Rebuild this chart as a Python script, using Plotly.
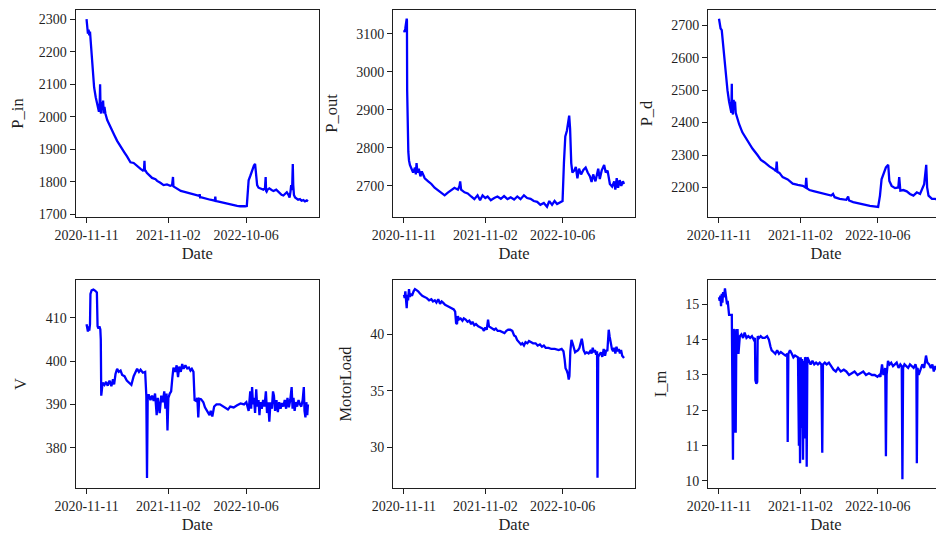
import plotly.graph_objects as go
import pandas as pd

BASE_DATE = "2020-11-11"
tick_labels = ["2020-11-11", "2021-11-02", "2022-10-06"]

# ---- P_in ----
pin_days = [0, 3, 6, 9, 12, 15, 18, 22, 27, 33,
            40, 48, 54, 57, 59, 61, 63, 66, 69, 72,
            75, 78, 82, 90, 104, 120, 133, 150, 165, 176,
            185, 191, 205, 220, 235, 245, 250, 252, 254, 256,
            262, 275, 285, 300, 307, 321, 335, 350, 364, 372,
            376, 378, 380, 384, 393, 410, 422, 440, 451, 465,
            480, 490, 492, 494, 500, 509, 525, 538, 552, 558,
            560, 562, 570, 581, 595, 610, 625, 639, 655, 668,
            680, 690, 697, 700, 705, 712, 720, 728, 733, 737,
            742, 748, 758, 769, 776, 779, 781, 783, 787, 795,
            805, 813, 825, 835, 842, 848, 856, 862, 871, 878,
            883, 887, 890, 894, 897, 899, 902, 907, 914, 920,
            928, 935, 943, 950, 958, 963]
pin_vals = [2300, 2270, 2255, 2268, 2250, 2262, 2230, 2180, 2130, 2090,
            2060, 2030, 2015, 2030, 2100, 2020, 2010, 2045, 2025, 2050,
            2010, 2030, 2010, 1990, 1967, 1945, 1926, 1905, 1890, 1878,
            1865, 1860, 1858, 1848, 1840, 1835, 1838, 1865, 1832, 1835,
            1828, 1818, 1812, 1808, 1803, 1797, 1790, 1792, 1788, 1790,
            1815, 1786, 1785, 1782, 1778, 1772, 1770, 1767, 1765, 1762,
            1760, 1757, 1762, 1752, 1752, 1750, 1748, 1745, 1743, 1742,
            1755, 1741, 1740, 1738, 1735, 1733, 1730, 1728, 1726, 1725,
            1724, 1725, 1726, 1770, 1805, 1818, 1835, 1850, 1855, 1825,
            1790, 1782, 1778, 1776, 1780, 1815, 1772, 1770, 1776, 1780,
            1775, 1772, 1776, 1768, 1765, 1760, 1758, 1762, 1768, 1760,
            1752, 1770, 1790, 1775, 1855, 1790, 1760, 1752, 1748, 1745,
            1747, 1742, 1744, 1740, 1743, 1740]

# ---- P_out ----
pout_days = [0, 3, 6, 9, 12, 13, 14, 16, 19, 22,
             26, 33, 40, 48, 52, 55, 59, 65, 72, 78,
             84, 91, 106, 120, 134, 149, 163, 178, 192, 207,
             221, 236, 243, 246, 250, 265, 279, 294, 308, 322,
             333, 344, 356, 366, 380, 395, 409, 424, 438, 453,
             467, 482, 496, 510, 525, 539, 554, 568, 583, 597,
             612, 626, 636, 648, 659, 670, 684, 694, 700, 706,
             713, 718, 723, 727, 732, 737, 745, 752, 759, 766,
             775, 785, 795, 804, 814, 821, 828, 838, 850, 857,
             865, 876, 883, 891, 901, 911, 920, 925, 931, 937,
             944, 951, 958, 963]
pout_vals = [3110, 3105, 3115, 3130, 3140, 3135, 2950, 2840, 2790, 2767,
             2755, 2745, 2735, 2748, 2730, 2760, 2735, 2745, 2725, 2738,
             2728, 2720, 2712, 2705, 2695, 2688, 2683, 2675, 2682, 2688,
             2695, 2690, 2700, 2712, 2690, 2683, 2680, 2672, 2665, 2675,
             2662, 2675, 2668, 2672, 2662, 2668, 2672, 2666, 2673, 2665,
             2670, 2664, 2672, 2665, 2675, 2668, 2666, 2660, 2658, 2650,
             2655, 2645, 2660, 2650, 2660, 2652, 2658, 2660, 2760, 2830,
             2845, 2870, 2885, 2850, 2760, 2735, 2740, 2750, 2720, 2745,
             2730, 2742, 2748, 2735, 2725, 2710, 2730, 2712, 2745, 2718,
             2740, 2755, 2735, 2740, 2705, 2698, 2712, 2690, 2720, 2695,
             2715, 2700, 2712, 2705]

# ---- P_d ----
pd_days = [0, 7, 12, 18, 22, 29, 37, 44, 51, 54,
           56, 57, 61, 64, 67, 70, 73, 81, 88, 102,
           124, 146, 168, 183, 198, 220, 242, 249, 252, 255,
           264, 278, 300, 322, 344, 366, 378, 381, 384, 395,
           417, 439, 468, 490, 498, 505, 527, 556, 564, 568,
           586, 615, 644, 659, 695, 703, 710, 717, 729, 739,
           744, 754, 769, 783, 787, 792, 805, 820, 834, 849,
           864, 878, 890, 896, 905, 909, 915, 930, 944, 959,
           963]
pd_vals = [2720, 2690, 2685, 2640, 2600, 2540, 2500, 2465, 2440, 2430,
           2520, 2440, 2425, 2470, 2440, 2465, 2430, 2410, 2395, 2370,
           2345, 2320, 2300, 2285, 2278, 2265, 2255, 2250, 2280, 2248,
           2245, 2232, 2225, 2212, 2208, 2205, 2200, 2230, 2198, 2192,
           2188, 2184, 2180, 2175, 2180, 2170, 2165, 2162, 2172, 2160,
           2155, 2150, 2145, 2143, 2140, 2175, 2225, 2240, 2262, 2270,
           2220, 2205, 2198, 2200, 2232, 2190, 2192, 2188, 2180, 2175,
           2185, 2180, 2200, 2210, 2270, 2200, 2175, 2165, 2165, 2160,
           2158]

# ---- V ----
v_days = [0, 3, 6, 9, 12, 15, 17, 22, 30, 38,
          45, 48, 52, 56, 60, 62, 64, 66, 70, 78,
          85, 92, 100, 108, 115, 120, 126, 133, 140, 148,
          155, 165, 175, 185, 195, 205, 212, 220, 228, 235,
          245, 255, 260, 263, 266, 270, 278, 285, 292, 298,
          305, 310, 318, 325, 332, 338, 343, 348, 352, 356,
          362, 368, 373, 378, 385, 392, 398, 403, 410, 416,
          422, 430, 438, 445, 452, 458, 465, 470, 476, 482,
          486, 490, 498, 508, 515, 525, 535, 540, 547, 555,
          565, 580, 595, 605, 615, 625, 640, 655, 670, 685,
          695, 705, 712, 716, 720, 724, 728, 733, 738, 742,
          748, 752, 756, 762, 768, 774, 780, 785, 790, 795,
          800, 806, 811, 815, 820, 826, 832, 838, 844, 850,
          856, 862, 868, 874, 880, 886, 892, 896, 900, 905,
          910, 916, 922, 928, 934, 940, 945, 948, 952, 956,
          960, 963]
v_vals = [408.5, 407.5, 406.8, 408.0, 407.0, 408.5, 415.5, 416.3, 416.5, 416.2,
          415.8, 408.0, 407.5, 408.0, 407.3, 405.0, 392.0, 393.0, 395.0, 394.5,
          395.2, 394.3, 395.5, 394.2, 395.8, 394.6, 397.0, 398.2, 397.5, 397.8,
          396.8, 396.5, 395.5, 395.0, 394.5, 396.5, 397.5, 398.2, 397.5, 398.0,
          397.3, 397.5, 392.0, 373.0, 391.5, 392.3, 391.0, 392.0, 390.8, 392.5,
          387.5, 391.5, 388.0, 392.0, 390.5, 393.0, 389.0, 392.5, 384.0, 391.5,
          392.5, 393.0, 396.0, 398.5, 397.5, 399.0, 396.3, 398.7, 397.5, 399.3,
          398.2, 399.0, 398.3, 398.5, 397.8, 398.2, 397.5, 391.0, 390.8, 391.5,
          387.0, 391.3, 391.2, 390.5, 389.3, 388.5, 387.5, 388.5, 387.2, 389.5,
          390.0, 390.0, 389.5, 389.0, 388.8, 389.5, 389.3, 389.8, 390.2, 390.0,
          390.5, 388.5, 393.0, 389.0, 394.0, 390.0, 391.5, 388.0, 393.5, 389.5,
          391.0, 387.5, 390.5, 389.0, 391.0, 389.5, 393.0, 388.0, 390.5, 386.0,
          390.5, 389.0, 393.0, 392.0, 388.5, 391.0, 388.2, 390.5, 389.0, 390.3,
          389.5, 391.0, 389.0, 391.5, 389.3, 391.0, 394.0, 389.0, 391.5, 388.5,
          390.5, 389.5, 391.0, 390.0, 389.5, 391.0, 394.0, 388.5, 387.0, 390.5,
          387.5, 390.0]

# ---- MotorLoad ----
ml_days = [0, 3, 6, 9, 12, 15, 18, 22, 26, 30,
           35, 42, 48, 55, 62, 70, 80, 90, 100, 110,
           120, 127, 135, 142, 150, 158, 165, 171, 180, 190,
           200, 210, 218, 224, 228, 232, 236, 240, 248, 256,
           262, 270, 278, 286, 294, 300, 308, 315, 325, 335,
           344, 350, 356, 362, 368, 372, 378, 385, 395, 402,
           410, 420, 430, 440, 448, 456, 465, 474, 482, 489,
           495, 505, 512, 518, 525, 532, 540, 547, 555, 565,
           576, 585, 595, 604, 612, 620, 633, 645, 660, 677,
           690, 698, 703, 707, 712, 717, 721, 724, 728, 733,
           738, 743, 749, 755, 762, 768, 774, 778, 781, 786,
           793, 800, 808, 815, 821, 826, 831, 836, 841, 845,
           847, 850, 855, 862, 868, 874, 880, 885, 890, 896,
           900, 905, 910, 915, 920, 925, 930, 935, 940, 945,
           950, 955, 960, 963]
ml_vals = [43.5, 43.2, 43.8, 42.5, 42.3, 43.5, 43.0, 44.0, 43.3, 43.6,
           43.4, 43.8, 44.0, 43.9, 43.8, 43.6, 43.4, 43.3, 43.2, 43.0,
           43.1, 42.9, 43.0, 42.8, 43.1, 42.7, 42.9, 42.8, 42.6, 42.5,
           42.4, 42.3, 42.2, 42.0, 41.0, 40.9, 41.6, 41.3, 41.4, 41.2,
           41.4, 41.3, 41.1, 41.2, 40.9, 41.1, 40.8, 40.9, 40.7, 40.6,
           40.5, 40.3, 40.6, 40.4, 41.3, 40.7, 40.6, 40.5, 40.4, 40.5,
           40.3, 40.3, 40.2, 40.1, 40.3, 40.4, 40.4, 40.3, 39.9, 39.8,
           39.5, 39.3, 39.1, 39.2, 39.0, 39.3, 39.2, 39.4, 39.3, 39.2,
           39.2, 39.0, 39.1, 38.9, 39.0, 38.8, 38.8, 38.7, 38.7, 38.6,
           38.7, 38.5, 37.8, 37.0, 36.8, 36.5, 36.0, 36.3, 38.5, 39.5,
           39.2, 38.8, 38.4, 38.5, 38.6, 38.8, 39.4, 39.6, 39.3, 38.6,
           38.3, 38.4, 38.3, 38.5, 38.3, 38.8, 38.4, 38.6, 38.2, 38.5,
           27.3, 38.0, 38.2, 38.4, 38.0, 38.7, 38.1, 38.6, 38.5, 40.4,
           39.8, 39.0, 38.7, 38.5, 38.8, 38.3, 38.9, 38.5, 38.7, 38.3,
           38.6, 38.1, 38.0, 37.9]

# ---- I_m ----
im_days = [0, 3, 6, 9, 12, 15, 18, 22, 26, 29,
           32, 35, 38, 41, 44, 50, 56, 61, 64, 66,
           70, 73, 76, 79, 81, 85, 91, 98, 105, 112,
           120, 128, 136, 144, 152, 157, 159, 163, 167, 169,
           175, 182, 190, 200, 210, 218, 225, 230, 238, 246,
           254, 262, 270, 278, 290, 298, 300, 303, 310, 318,
           325, 332, 345, 349, 351, 354, 357, 360, 363, 367,
           370, 373, 376, 380, 383, 386, 392, 400, 408, 416,
           424, 432, 440, 447, 451, 454, 462, 470, 480, 490,
           500, 510, 520, 532, 545, 556, 568, 580, 592, 605,
           618, 630, 642, 655, 668, 680, 692, 700, 705, 712,
           718, 722, 726, 729, 732, 738, 745, 752, 760, 768,
           776, 784, 792, 798, 801, 804, 810, 818, 826, 834,
           842, 850, 858, 862, 864, 867, 872, 880, 888, 896,
           904, 910, 918, 925, 932, 938, 945, 952, 958, 963]
im_vals = [15.2, 15.1, 15.25, 14.95, 15.3, 15.05, 15.35, 15.2, 15.45, 15.3,
           15.15, 15.0, 15.1, 14.85, 14.7, 14.7, 14.7, 10.6, 14.3, 14.25,
           11.4, 11.4, 14.3, 13.6, 14.3, 13.6, 14.1, 14.15, 14.05, 14.2,
           14.05, 14.1, 14.05, 14.1, 14.0, 14.05, 12.85, 12.75, 12.8, 14.1,
           14.05, 14.1, 14.05, 14.05, 14.1, 14.0, 13.8, 13.7, 13.65, 13.6,
           13.7, 13.6, 13.65, 13.6, 13.55, 13.6, 11.1, 13.6, 13.7, 13.6,
           13.5, 13.55, 13.5, 11.0, 13.5, 10.5, 13.5, 11.5, 13.45, 10.6,
           13.4, 11.2, 13.5, 13.45, 10.4, 13.5, 13.4, 13.3, 13.4, 13.3,
           13.35, 13.3, 13.35, 13.3, 10.8, 13.3, 13.35, 13.3, 13.35, 13.25,
           13.15, 13.1, 13.2, 13.1, 13.15, 13.1, 13.0, 13.05, 13.1, 13.0,
           13.05, 13.1, 13.0, 13.05, 13.0, 13.0, 12.95, 13.0, 12.95, 13.3,
           13.0, 13.1, 13.2, 10.7, 13.0, 13.4, 13.3, 13.35, 13.25, 13.3,
           13.35, 13.2, 13.3, 13.25, 10.05, 13.2, 13.3, 13.25, 13.2, 13.3,
           13.25, 13.2, 13.3, 13.2, 10.5, 13.2, 13.0, 13.15, 13.3, 13.2,
           13.55, 13.35, 13.3, 13.2, 13.3, 13.1, 13.25, 13.15, 13.3, 13.25]

y_titles = ["P_in", "P_out", "P_d", "V", "MotorLoad", "I_m"]
y_ranges = [[1692, 2328], [2618, 3163], [2109, 2747],
            [370.7, 418.7], [26.4, 44.8], [9.8, 15.69]]
y_ticks = [[1700, 1800, 1900, 2000, 2100, 2200, 2300],
           [2700, 2800, 2900, 3000, 3100],
           [2200, 2300, 2400, 2500, 2600, 2700],
           [380, 390, 400, 410],
           [30, 35, 40],
           [10, 11, 12, 13, 14, 15]]
series = [(pin_days, pin_vals), (pout_days, pout_vals), (pd_days, pd_vals),
          (v_days, v_vals), (ml_days, ml_vals), (im_days, im_vals)]

base = pd.Timestamp(BASE_DATE)


def to_dates(days):
    return [base + pd.Timedelta(days=d) for d in days]


# The page body has an 8px margin, so the figure is drawn 8px in from the
# top-left corner; lay it out in page pixels and shift by that offset.
PAGE_W, PAGE_H, OFF = 944, 536, 8
W, H = PAGE_W - OFF, PAGE_H - OFF
col_px = [(75.5, 319.0), (393.0, 635.0), (708.0, 950.5)]
row_px = [(10.0, 217.0), (280.0, 488.0)]
x_lo_days, x_hi_days = -48.0, 1011.0

FONT = "Liberation Serif"
INK = "#1f1f1f"
fig = go.Figure()
layout = {}
for i, ((days, vals), title) in enumerate(zip(series, y_titles)):
    r, c = divmod(i, 3)
    n = i + 1
    xa = "x" if n == 1 else f"x{n}"
    ya = "y" if n == 1 else f"y{n}"
    fig.add_trace(go.Scatter(x=to_dates(days), y=vals, mode="lines",
                             line=dict(color="#0000ff", width=2.3),
                             xaxis=xa, yaxis=ya, showlegend=False,
                             hoverinfo="skip"))
    x0, x1 = col_px[c][0] - OFF, col_px[c][1] - OFF
    full_w = x1 - x0
    x1c = min(x1, W)
    hi_days = x_lo_days + (x_hi_days - x_lo_days) * (x1c - x0) / full_w
    y0, y1 = row_px[r][0] - OFF, row_px[r][1] - OFF
    xkey = "xaxis" if n == 1 else f"xaxis{n}"
    ykey = "yaxis" if n == 1 else f"yaxis{n}"
    layout[xkey] = dict(
        domain=[x0 / W, x1c / W], anchor=ya, automargin=False,
        range=[base + pd.Timedelta(days=x_lo_days), base + pd.Timedelta(days=hi_days)],
        tickvals=tick_labels, ticktext=tick_labels,
        showline=True, linecolor=INK, linewidth=1, mirror=True,
        ticks="outside", ticklen=5, tickcolor=INK, tickwidth=1,
        showgrid=False, zeroline=False,
        tickfont=dict(family=FONT, size=14, color=INK),
        title=dict(text="Date", font=dict(family=FONT, size=16.5, color=INK), standoff=5),
    )
    layout[ykey] = dict(
        domain=[1 - y1 / H, 1 - y0 / H], anchor=xa, automargin=False,
        range=y_ranges[i], tickvals=y_ticks[i],
        showline=True, linecolor=INK, linewidth=1, mirror=(c != 2),
        ticks="outside", ticklen=5, tickcolor=INK, tickwidth=1,
        showgrid=False, zeroline=False,
        tickfont=dict(family=FONT, size=14, color=INK),
        title=dict(text=title, font=dict(family=FONT, size=16.5, color=INK), standoff=14),
    )

fig.update_layout(width=W, height=H, margin=dict(l=0, r=0, t=0, b=0),
                  paper_bgcolor="white", plot_bgcolor="white", **layout)
fig.write_html("out.html")
